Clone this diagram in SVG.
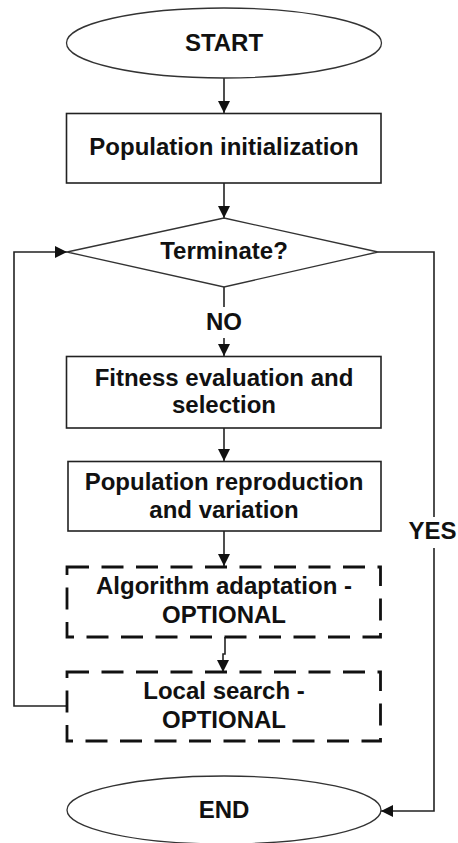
<svg xmlns="http://www.w3.org/2000/svg" width="458" height="843" viewBox="0 0 458 843">
  <style>
    .term { fill: #fff; stroke: #333; stroke-width: 1.3; }
    .box { fill: #fff; stroke: #222; stroke-width: 1.6; }
    .opt { fill: #fff; stroke: #111; stroke-width: 2.8; stroke-dasharray: 22 12.5; }
    .dec { fill: #fff; stroke: #333; stroke-width: 1.3; }
    .wire { fill: none; stroke: #222; stroke-width: 1.6; }
    text { font-family: "Liberation Sans", Arial, sans-serif; font-weight: bold; font-size: 24px; fill: #111; text-anchor: middle; }
  </style>
  <defs>
    <marker id="arrowSmall" viewBox="0 0 10 10" refX="10" refY="5" markerWidth="14" markerHeight="12" markerUnits="userSpaceOnUse" orient="auto">
      <path d="M0 0 L10 5 L0 10 Z" fill="#111"/>
    </marker>
  </defs>

  <rect width="458" height="843" fill="#fff"/>

  <g id="connectors">
    <path class="wire" d="M224 78 V113" marker-end="url(#arrowSmall)"/>
    <path class="wire" d="M224 183 V218" marker-end="url(#arrowSmall)"/>
    <path class="wire" d="M224 287 V307"/>
    <path class="wire" d="M224 338 V356" marker-end="url(#arrowSmall)"/>
    <path class="wire" d="M224 428 V461" marker-end="url(#arrowSmall)"/>
    <path class="wire" d="M224 531 V566" marker-end="url(#arrowSmall)"/>
    <path class="wire" d="M225 637 V654 H223 V672" marker-end="url(#arrowSmall)"/>
    <!-- loop back to the decision -->
    <path class="wire" d="M67 706 H14 V252 H67" marker-end="url(#arrowSmall)"/>
    <!-- YES branch to END -->
    <path class="wire" d="M378 252 H434 V517"/>
    <path class="wire" d="M434 548 V811 H381" marker-end="url(#arrowSmall)"/>
  </g>

  <g id="start">
    <ellipse class="term" cx="224" cy="43" rx="157.5" ry="35"/>
    <text x="224" y="51">START</text>
  </g>

  <g id="init">
    <rect class="box" x="66.5" y="113.5" width="314.5" height="69.5"/>
    <text x="224" y="155">Population initialization</text>
  </g>

  <g id="terminate">
    <path class="dec" d="M224 218 L378 252 L224 287 L67 252 Z"/>
    <text x="224" y="259">Terminate?</text>
  </g>

  <g id="label-no">
    <text x="224" y="330">NO</text>
  </g>

  <g id="fitness">
    <rect class="box" x="66.5" y="356.5" width="314.5" height="71.5"/>
    <text x="224" y="386">Fitness evaluation and</text>
    <text x="224" y="413">selection</text>
  </g>

  <g id="reproduction">
    <rect class="box" x="68" y="461.5" width="313" height="69.5"/>
    <text x="224" y="490">Population reproduction</text>
    <text x="224" y="518">and variation</text>
  </g>

  <g id="adaptation">
    <rect class="opt" x="67" y="567" width="313.5" height="70"/>
    <text x="224" y="594">Algorithm adaptation -</text>
    <text x="224" y="623">OPTIONAL</text>
  </g>

  <g id="local-search">
    <rect class="opt" x="67" y="672" width="313.5" height="69"/>
    <text x="224" y="699">Local search -</text>
    <text x="224" y="728">OPTIONAL</text>
  </g>

  <g id="label-yes">
    <text x="432.5" y="539">YES</text>
  </g>

  <g id="end">
    <ellipse class="term" cx="224" cy="810" rx="157" ry="34"/>
    <text x="224" y="818">END</text>
  </g>
</svg>
